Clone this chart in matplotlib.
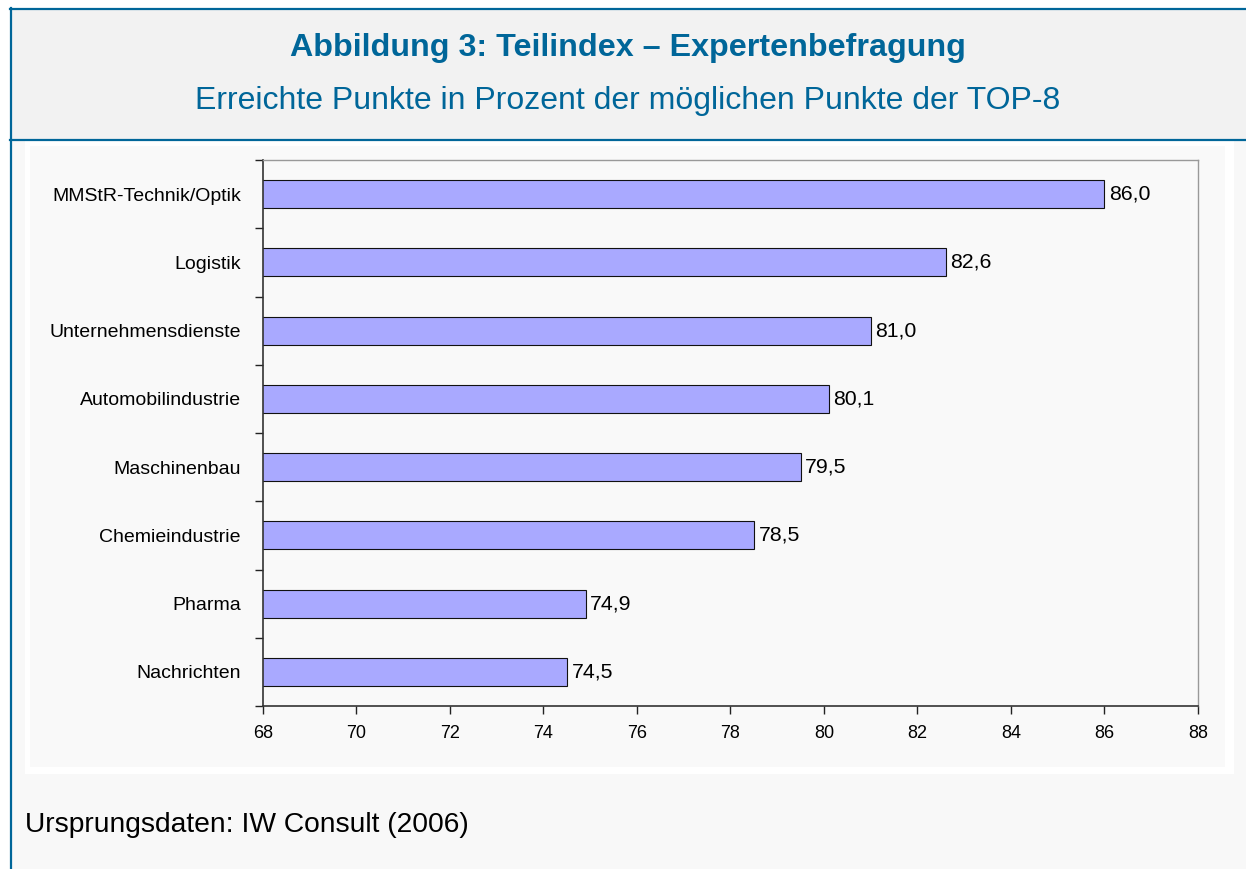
import matplotlib.pyplot as plt
from matplotlib.patches import Rectangle

plt.rcParams['font.family'] = ['Liberation Sans', 'DejaVu Sans']

# Branchen und Punkte (in Prozent der möglichen Punkte)
branchen = [
    "Nachrichten",
    "Pharma",
    "Chemieindustrie",
    "Maschinenbau",
    "Automobilindustrie",
    "Unternehmensdienste",
    "Logistik",
    "MMStR-Technik/Optik",
]
punkte = [74.5, 74.9, 78.5, 79.5, 80.1, 81.0, 82.6, 86.0]
x_ticks = [68, 70, 72, 74, 76, 78, 80, 82, 84, 86, 88]

title = "Abbildung 3: Teilindex – Expertenbefragung"
subtitle = "Erreichte Punkte in Prozent der möglichen Punkte der TOP-8"
source = "Ursprungsdaten: IW Consult (2006)"

W, H = 1246, 869
BLUE = "#006699"

fig = plt.figure(figsize=(W / 100, H / 100), dpi=100, facecolor="white")


def box(x0, y0, x1, y1, color):
    # rectangle in pixel coordinates measured from the top-left corner
    fig.patches.append(Rectangle((x0 / W, 1 - y1 / H), (x1 - x0) / W, (y1 - y0) / H,
                                 transform=fig.transFigure, facecolor=color,
                                 edgecolor="none", zorder=-5))


def hline(y, x0, x1):
    fig.add_artist(plt.Line2D([x0 / W, x1 / W], [1 - y / H, 1 - y / H],
                              transform=fig.transFigure, color=BLUE, lw=1.6,
                              zorder=-1))


# background frame
box(10, 8, W, 140, "#f2f2f2")
box(10, 140, W, H, "#f8f8f8")
box(25, 141, 1234, 774, "white")
box(30, 146, 1225, 767, "#f9f9f9")
hline(8.5, 10, W)
hline(140, 10, W)
fig.add_artist(plt.Line2D([10.5 / W, 10.5 / W], [0, 1 - 8 / H],
                          transform=fig.transFigure, color=BLUE, lw=1.6, zorder=-1))

fig.text(628 / W, 1 - 48 / H, title, ha="center", va="center",
         fontsize=23.2, fontweight="bold", color=BLUE)
fig.text(628 / W, 1 - 101 / H, subtitle, ha="center", va="center",
         fontsize=23, color=BLUE)
fig.text(25 / W, 1 - 825 / H, source, ha="left", va="center",
         fontsize=20.3, color="black")

# chart
ax = fig.add_axes([263 / W, 1 - 706 / H, (1198 - 263) / W, (706 - 160) / H])
ax.set_facecolor("#f9f9f9")
pos = list(range(len(branchen)))
ax.barh(pos, punkte, height=0.41, left=0, color="#a9a9ff",
        edgecolor="#111111", linewidth=0.8, zorder=2)

for p, v in zip(pos, punkte):
    ax.text(v + 0.1, p, f"{v:.1f}".replace(".", ","), ha="left", va="center",
            fontsize=15.3, color="black")

ax.set_xlim(68, 88)
ax.set_ylim(-0.5, len(branchen) - 0.5)
ax.set_xticks(x_ticks)
ax.set_xticklabels([str(t) for t in x_ticks], fontsize=13)
ax.set_yticks(pos)
ax.set_yticklabels(branchen, fontsize=14)
ax.set_yticks([p - 0.5 for p in pos] + [len(pos) - 0.5], minor=True)
ax.tick_params(axis="y", which="major", length=0, pad=16)
ax.tick_params(axis="y", which="minor", length=6, width=1, color="#222222")
ax.tick_params(axis="x", length=6, width=1, color="#222222", pad=8)

for s in ("left", "bottom"):
    ax.spines[s].set_color("#333333")
    ax.spines[s].set_linewidth(1.2)
for s in ("top", "right"):
    ax.spines[s].set_color("#999999")
    ax.spines[s].set_linewidth(1.0)

fig.savefig("out.png", dpi=100, facecolor="white")
